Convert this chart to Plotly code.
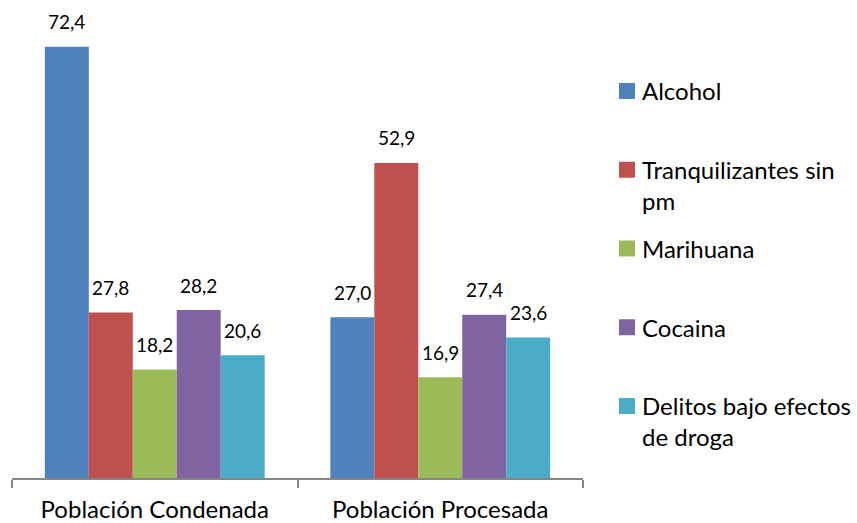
import plotly.graph_objects as go

# Data
categories = ["Población Condenada", "Población Procesada"]
series_names = ["Alcohol", "Tranquilizantes sin<br>pm", "Marihuana", "Cocaina",
                "Delitos bajo efectos<br>de droga"]
series_values = [
    [72.4, 27.0],
    [27.8, 52.9],
    [18.2, 16.9],
    [28.2, 27.4],
    [20.6, 23.6],
]
colors = ["#4F81BD", "#C0504D", "#9BBB59", "#8064A2", "#4BACC6"]

# Layout constants (pixels)
W, H = 857, 523
M_L, M_R, M_T, M_B = 12, 274, 20, 45
Y_MAX = 76.9
BARGAP = 0.23
FONT = "Lato"

plot_w = W - M_L - M_R
plot_h = H - M_T - M_B


def px_to_paper_x(px):
    return (px - M_L) / plot_w


def px_to_paper_y(py):
    return (H - M_B - py) / plot_h


fig = go.Figure()
for name, vals, col in zip(series_names, series_values, colors):
    fig.add_trace(go.Bar(
        x=categories, y=vals, name=name.replace("<br>", " "),
        marker=dict(color=col, line=dict(width=0)),
        showlegend=False,
    ))

# Value labels above each bar
n = len(series_names)
bar_w = (1 - BARGAP) / n
annotations = []
for i, vals in enumerate(series_values):
    for g, v in enumerate(vals):
        annotations.append(dict(
            x=g + (i - (n - 1) / 2) * bar_w, y=v, xref="x", yref="y",
            text=f"{v:.1f}".replace(".", ","), showarrow=False,
            yanchor="middle", yshift=25,
            font=dict(family=FONT, size=19, color="#000000"),
        ))

# Legend drawn at the right side
LEG_SQ_X0, LEG_SQ = 619, 16
LEG_TXT_X = 640
LEG_Y0, LEG_STEP = 91, 78.75
LEG_FS = 24
shapes = []
for i, (name, col) in enumerate(zip(series_names, colors)):
    cy = LEG_Y0 + i * LEG_STEP
    shapes.append(dict(
        type="rect", xref="paper", yref="paper",
        x0=px_to_paper_x(LEG_SQ_X0), x1=px_to_paper_x(LEG_SQ_X0 + LEG_SQ),
        y0=px_to_paper_y(cy + LEG_SQ / 2), y1=px_to_paper_y(cy - LEG_SQ / 2),
        fillcolor=col, line=dict(width=0),
    ))
    annotations.append(dict(
        x=px_to_paper_x(LEG_TXT_X), y=px_to_paper_y(cy - 0.65 * LEG_FS - 1),
        xref="paper", yref="paper", xanchor="left", yanchor="top",
        align="left", text=name, showarrow=False,
        font=dict(family=FONT, size=LEG_FS, color="#000000"),
    ))

fig.update_layout(
    width=W, height=H,
    margin=dict(l=M_L, r=M_R, t=M_T, b=M_B),
    paper_bgcolor="white", plot_bgcolor="white",
    barmode="group", bargap=BARGAP, bargroupgap=0,
    separators=",.",
    annotations=annotations, shapes=shapes,
    font=dict(family=FONT, color="#000000"),
    xaxis=dict(
        type="category", tickson="boundaries", ticks="outside", ticklen=8,
        tickcolor="#868686", tickwidth=1.5,
        showline=True, linecolor="#868686", linewidth=1.5,
        showgrid=False, ticklabelstandoff=9, automargin=False,
        tickfont=dict(family=FONT, size=24, color="#000000"),
    ),
    yaxis=dict(visible=False, range=[0, Y_MAX]),
)

fig.write_html("out.html")
